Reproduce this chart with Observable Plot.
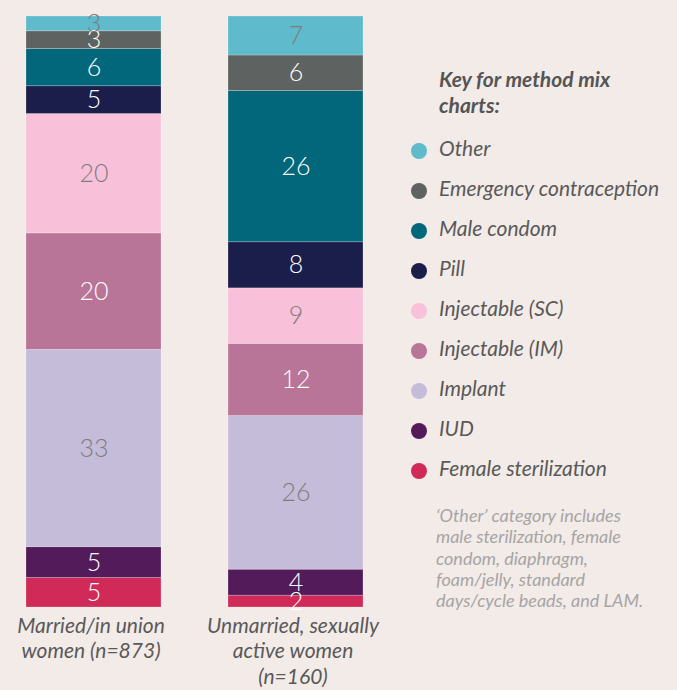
<!DOCTYPE html>
<html><head><meta charset="utf-8">
<script src="https://cdn.jsdelivr.net/npm/d3@7"></script>
<script src="https://cdn.jsdelivr.net/npm/@observablehq/plot@0.6"></script>
<style>
html,body{margin:0;padding:0;background:#f3ebe8;}
#wrap{position:relative;width:677px;height:690px;overflow:hidden;font-family:Lato,"Open Sans",sans-serif;}
#wrap svg{position:absolute;left:0;top:0;}
.ltitle{position:absolute;left:439px;top:66px;font-size:21px;line-height:26px;font-weight:bold;font-style:italic;color:#555;white-space:nowrap;}
.litem{position:absolute;left:439px;height:40px;line-height:40px;font-size:21px;font-style:italic;color:#595959;white-space:nowrap;}
.ldot{position:absolute;left:411px;width:16px;height:16px;border-radius:50%;}
.lnote{position:absolute;left:436px;top:505px;font-size:18px;line-height:21.3px;font-style:italic;color:#a5a5a5;white-space:nowrap;}
</style></head><body><div id="wrap"></div>
<script>
const methods = ["Female sterilization","IUD","Implant","Injectable (IM)","Injectable (SC)","Pill","Male condom","Emergency contraception","Other"];
const colors = ["#cf2a58","#531b5a","#c5bcda","#b87597","#f8c1d9","#1b1d4a","#02677b","#5e6260","#5fbacb"];
const groups = ["Married/in union\nwomen (n=873)","Unmarried, sexually\nactive women\n(n=160)"];
// bar heights
const married = [5.0, 5.2, 33.4, 19.7, 20.2, 4.7, 6.3, 3.0, 2.5];
const unmarried = [2.0, 4.4, 26.0, 12.2, 9.4, 7.8, 25.6, 6.0, 6.6];
// printed labels
const marriedLabels = [5, 5, 33, 20, 20, 5, 6, 3, 3];
const unmarriedLabels = [2, 4, 26, 12, 9, 8, 26, 6, 7];
const lightLabels = ["Implant","Injectable (SC)","Other"];
const legendTitle = ["Key for method mix", "charts:"];
const footnoteLines = ["\u2018Other\u2019 category includes","male sterilization, female","condom, diaphragm,","foam/jelly, standard","days/cycle beads, and LAM."];

const series = [married, unmarried];
const labels = [marriedLabels, unmarriedLabels];
const data = [];
groups.forEach((g, gi) => methods.forEach((m, i) => data.push({group: g, method: m, value: series[gi][i], label: labels[gi][i]})));

const isLight = d => lightLabels.includes(d.method);

const plot = Plot.plot({
  width: 677, height: 690,
  marginTop: 16, marginBottom: 83, marginLeft: 0, marginRight: 0,
  style: {background: "transparent", fontFamily: "Lato, sans-serif", overflow: "visible"},
  x: {domain: groups, range: [0, 389], paddingInner: 0.3317, paddingOuter: 0.1287, label: null},
  y: {domain: [0, 100], axis: null},
  color: {domain: methods, range: colors},
  marks: [
    Plot.barY(data, {x: "group", y: "value", z: "method", fill: "method", order: methods,
      stroke: "white", strokeOpacity: 0.28, strokeWidth: 0.8}),
    Plot.text(data, Plot.stackY({x: "group", y: "value", z: "method", order: methods,
      text: d => isLight(d) ? null : String(d.label), fill: "white", fontSize: 25, fontWeight: 300})),
    Plot.text(data, Plot.stackY({x: "group", y: "value", z: "method", order: methods,
      text: d => isLight(d) ? String(d.label) : null, fill: "#7d7d7d", fontSize: 25, fontWeight: 300})),
    Plot.axisX({tickSize: 0, tickPadding: 7, dx: -3, fontSize: 21, fontStyle: "italic", fill: "#595959", lineHeight: 1.22, label: null})
  ]
});

const wrap = document.getElementById("wrap");
wrap.appendChild(plot);

const t = document.createElement("div");
t.className = "ltitle";
t.innerHTML = legendTitle.join("<br>");
wrap.appendChild(t);

methods.slice().reverse().forEach((m, i) => {
  const top = 128 + 40 * i;
  const dot = document.createElement("div");
  dot.className = "ldot";
  dot.style.top = (top + 15) + "px";
  dot.style.background = colors[methods.indexOf(m)];
  wrap.appendChild(dot);
  const it = document.createElement("div");
  it.className = "litem";
  it.style.top = top + "px";
  it.textContent = m;
  wrap.appendChild(it);
});

const note = document.createElement("div");
note.className = "lnote";
note.innerHTML = footnoteLines.join("<br>");
wrap.appendChild(note);
</script>
</body></html>
